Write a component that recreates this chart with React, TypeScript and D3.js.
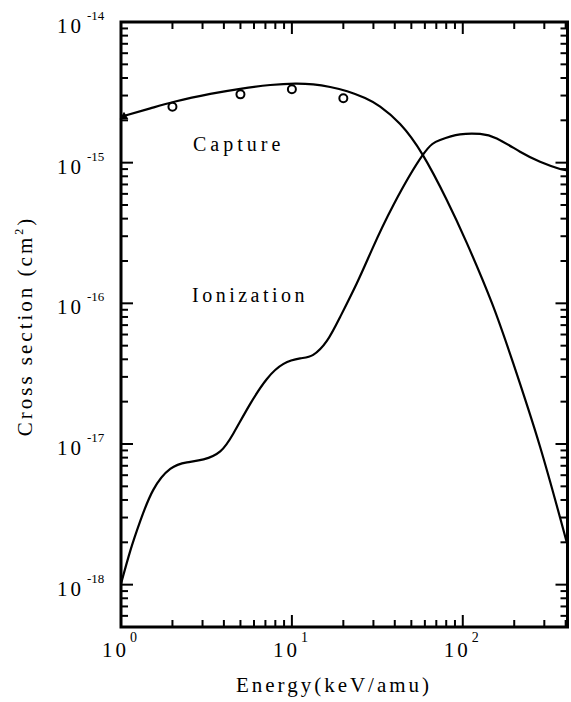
import * as d3 from 'd3';

// capture cross section (solid line)
const captureEnergy = [1, 1.484, 2.078, 3.33, 4.985, 7.47, 10.45, 13.32, 16.75, 21.06, 26.8, 32.85, 42.98, 58.3, 80.6, 105.5, 148, 197, 283, 405];
const captureSigma = [2.12e-15, 2.43e-15, 2.72e-15, 3.08e-15, 3.35e-15, 3.565e-15, 3.65e-15, 3.6e-15, 3.45e-15, 3.22e-15, 2.88e-15, 2.5e-15, 1.88e-15, 1.135e-15, 5.43e-16, 2.69e-16, 1.007e-16, 3.77e-17, 9.6e-18, 2.02e-18];

// ionization cross section (solid line)
const ionEnergy = [1, 1.133, 1.297, 1.545, 1.942, 2.432, 3.041, 3.808, 4.555, 5.704, 7.141, 8.932, 11.18, 13.32, 16.02, 19.16, 23.99, 29.37, 39.28, 58.36, 73.68, 96.43, 126.2, 158.1, 216.3, 283.2, 370.7, 405.7];
const ionSigma = [1.013e-18, 1.739e-18, 2.84e-18, 4.72e-18, 6.65e-18, 7.4e-18, 7.77e-18, 8.86e-18, 1.193e-17, 1.928e-17, 2.9e-17, 3.71e-17, 4.06e-17, 4.3e-17, 5.4e-17, 8.0e-17, 1.39e-16, 2.4e-16, 5.0e-16, 1.134e-15, 1.45e-15, 1.587e-15, 1.6e-15, 1.486e-15, 1.197e-15, 1.016e-15, 9.02e-16, 8.87e-16];

// measured capture points (open circles) and the triangle at 1 keV
const expEnergy = [2, 5, 10, 20];
const expSigma = [2.5e-15, 3.06e-15, 3.33e-15, 2.87e-15];
const triEnergy = [1];
const triSigma = [2.12e-15];

const xDecades = [0, 1, 2];
const yDecades = [-14, -15, -16, -17, -18];

const W = 571;
const H = 702;
const font = '"Liberation Serif", "Times New Roman", serif';

export default function App() {
  const x = d3.scaleLog().domain([1, 410]).range([121, 567.5]);
  const y = d3.scaleLog().domain([5e-19, 1e-14]).range([627, 22]);
  const [x0, x1] = x.range();
  const [y0, y1] = y.range();

  const line = d3.line<[number, number]>()
    .x(d => x(d[0]))
    .y(d => y(d[1]))
    .curve(d3.curveNatural);

  const capPath = line(captureEnergy.map((e, i) => [e, captureSigma[i]] as [number, number])) || '';
  const ionPath = line(ionEnergy.map((e, i) => [e, ionSigma[i]] as [number, number])) || '';

  // tick positions, 1..9 per decade, clipped to the domains
  const xTicks: { v: number; major: boolean }[] = [];
  for (let d = 0; d <= 2; d++)
    for (let m = 1; m <= 9; m++) {
      const v = m * Math.pow(10, d);
      if (v > 1 && v <= 410) xTicks.push({ v, major: m === 1 });
    }
  const yTicks: { v: number; major: boolean }[] = [];
  for (let d = -19; d <= -15; d++)
    for (let m = 1; m <= 9; m++) {
      const v = m * Math.pow(10, d);
      if (v >= 5e-19 && v < 1e-14) yTicks.push({ v, major: m === 1 });
    }

  const tri = d3.symbol(d3.symbolTriangle, 34)() || '';

  return (
    <div style={{ position: 'absolute', left: 0, top: 0 }}>
      <svg width={W} height={H} style={{ display: 'block', background: '#fff' }}>
        <g stroke="#000" fill="none">
          {xTicks.map((t, i) => (
            <g key={'xt' + i} strokeWidth={2}>
              <line x1={x(t.v)} x2={x(t.v)} y1={y0} y2={y0 - (t.major ? 12 : 7)} />
              <line x1={x(t.v)} x2={x(t.v)} y1={y1} y2={y1 + (t.major ? 12 : 7)} />
            </g>
          ))}
          {yTicks.map((t, i) => (
            <g key={'yt' + i} strokeWidth={2}>
              <line x1={x0} x2={x0 + (t.major ? 12 : 7)} y1={y(t.v)} y2={y(t.v)} />
              <line x1={x1} x2={x1 - (t.major ? 12 : 7)} y1={y(t.v)} y2={y(t.v)} />
            </g>
          ))}
          <rect x={x0} y={y1} width={x1 - x0} height={y0 - y1} strokeWidth={3} />
          <path d={capPath} strokeWidth={2.2} />
          <path d={ionPath} strokeWidth={2.2} />
          {expEnergy.map((e, i) => (
            <circle key={'c' + i} cx={x(e)} cy={y(expSigma[i])} r={4} strokeWidth={2} fill="#fff" />
          ))}
        </g>
        {triEnergy.map((e, i) => (
          <path key={'tr' + i} d={tri} transform={`translate(${x(e) + 3},${y(triSigma[i])})`} fill="#000" />
        ))}

        <g fontFamily={font} fill="#000">
          {yDecades.map(d => (
            <g key={'yl' + d}>
              <text x={84} y={y(Math.pow(10, d)) + 11} fontSize={21} textAnchor="end" letterSpacing={3}>10</text>
              <text x={87} y={y(Math.pow(10, d)) - 2} fontSize={13}>{d}</text>
            </g>
          ))}
          {xDecades.map(d => (
            <g key={'xl' + d}>
              <text x={x(Math.pow(10, d)) + 8} y={657} fontSize={21} textAnchor="end" letterSpacing={3}>10</text>
              <text x={x(Math.pow(10, d)) + 9} y={642} fontSize={14}>{d}</text>
            </g>
          ))}
          <text x={334} y={692} fontSize={21} textAnchor="middle" letterSpacing={3}>Energy(keV/amu)</text>
          <text transform="translate(32,326) rotate(-90)" fontSize={21} textAnchor="middle" letterSpacing={3}>
            Cross section (cm<tspan fontSize={12} dy={-9}>2</tspan><tspan dy={9}>)</tspan>
          </text>
          <text x={193} y={151} fontSize={20} letterSpacing={4}>Capture</text>
          <text x={192} y={302} fontSize={20} letterSpacing={3.5}>Ionization</text>
        </g>
      </svg>
    </div>
  );
}
